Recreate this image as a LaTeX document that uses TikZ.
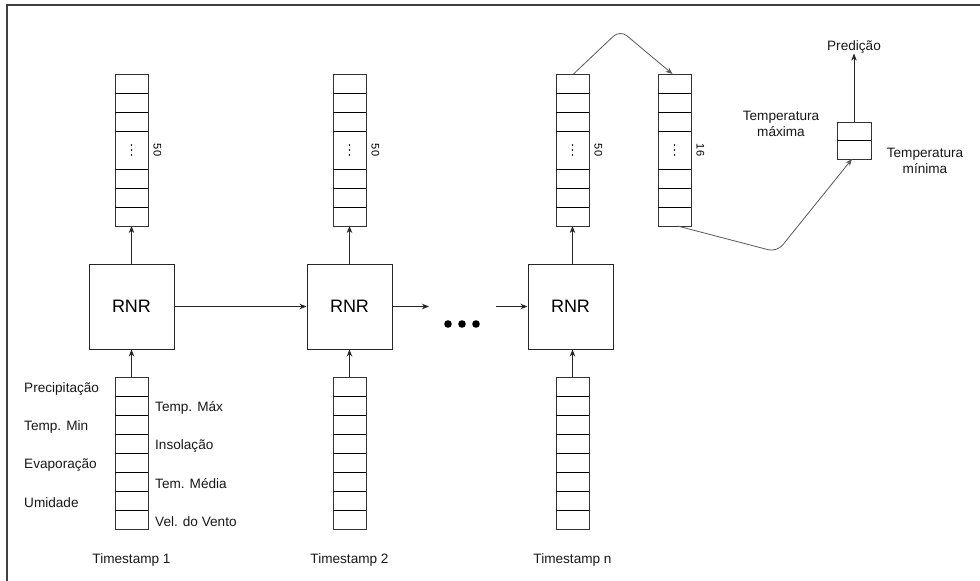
\documentclass[tikz,border=0pt]{standalone}
\usepackage{fontspec}
\setmainfont{Liberation Sans}
\usetikzlibrary{arrows.meta,calc}

\tikzset{
  frameline/.style={draw=black!75, line width=1.3pt},
  stackbox/.style={draw=black!80, line width=0.9pt, minimum width=33pt, inner sep=0pt, outer sep=0pt},
  cellline/.style={draw=black, line width=0.8pt},
  rnrbox/.style={draw=black!85, line width=1pt, minimum width=85pt, minimum height=85pt,
    inner sep=0pt, font=\fontsize{18}{20}\selectfont},
  lbl/.style={font=\fontsize{13.6}{16}\selectfont, inner sep=0pt, text=black!90},
  sizelbl/.style={font=\fontsize{11}{12}\selectfont, inner sep=0pt, rotate=-90},
  arr/.style={-{Stealth[length=7pt,width=5.5pt]}, line width=0.8pt, draw=black!85},
  curvearr/.style={arr, draw=black!65, rounded corners=9pt},
}

% dense layer: 3 cells, ellipsis cell, 3 cells
\newcommand{\hiddenstack}[3]{%
  \node[stackbox, minimum height=152pt] (#1) at (#2,150) {};
  \foreach \dy in {19,38,57,95,114,133}
    \draw[cellline] ($(#1.north west)+(0,\dy)$) -- ($(#1.north east)+(0,\dy)$);
  \foreach \dy in {-5,0,5}
    \fill ($(#1.center)+(0,\dy)$) circle (0.9pt);
  \node[sizelbl] (#1-n) at ($(#1.center)+(26,0)$) {#3};
}
% input vector: 8 cells
\newcommand{\inputstack}[2]{%
  \node[stackbox, minimum height=152pt] (#1) at (#2,453) {};
  \foreach \dy in {19,38,57,76,95,114,133}
    \draw[cellline] ($(#1.north west)+(0,\dy)$) -- ($(#1.north east)+(0,\dy)$);
}

\begin{document}
\begin{tikzpicture}[x=1pt,y=-1pt]
  \useasboundingbox (0,0) rectangle (980,581);
  \fill[white] (0,0) rectangle (980,581);

  % outer frame (top and left edges)
  \draw[frameline] (980,5) -- (7,5) -- (7,581);

  % recurrent cells
  \node[rnrbox] (r1) at (131.5,306.5) {RNR};
  \node[rnrbox] (r2) at (349.5,306.5) {RNR};
  \node[rnrbox] (r3) at (570.5,306.5) {RNR};

  % hidden state vectors
  \hiddenstack{h1}{131.5}{50}
  \hiddenstack{h2}{349.5}{50}
  \hiddenstack{h3}{572.5}{50}
  \hiddenstack{h4}{674.5}{16}

  % input vectors
  \inputstack{x1}{131.5}
  \inputstack{x2}{349.5}
  \inputstack{x3}{572.5}

  % output cell
  \node[stackbox, minimum width=34pt, minimum height=37pt] (o) at (854,140.5) {};
  \draw[cellline] (o.west) -- (o.east);

  % vertical flows
  \foreach \i in {1,2,3} {
    \draw[arr] (x\i.north) -- (x\i.north |- r\i.south);
    \draw[arr] (h\i.south |- r\i.north) -- (h\i.south);
  }

  % recurrence along time
  \coordinate (gapL) at (429,306.5);
  \coordinate (gapR) at (496,306.5);
  \draw[arr] (r1.east) -- (r2.west);
  \draw[arr] (r2.east) -- (gapL);
  \draw[arr] (gapR) -- (r3.west);
  \foreach \x in {448,462,476}
    \fill (\x,324) circle (3.8pt);

  % dense layers towards the prediction
  \coordinate (peak) at (620,30);
  \coordinate (bend) at (777,252);
  \draw[curvearr] ([xshift=1pt]h3.north) -- (peak) -- ([xshift=-2pt]h4.north);
  \draw[curvearr] ([xshift=3pt]h4.south) -- (bend) -- ([xshift=-2pt]o.south);

  \node[lbl] (pred) at (854,47) {Predição};
  \draw[arr] (o.north) -- (pred.south);

  \node[lbl, align=center] (tmax) at (781,124) {Temperatura\\máxima};
  \node[lbl, align=center] (tmin) at (925,161) {Temperatura\\mínima};

  % input feature names
  \node[lbl, anchor=west] (f1) at (24,389) {Precipitação};
  \node[lbl, anchor=west] (f2) at (24,427) {Temp. Min};
  \node[lbl, anchor=west] (f3) at (24,465) {Evaporação};
  \node[lbl, anchor=west] (f4) at (24,503) {Umidade};
  \node[lbl, anchor=west] (f5) at (155,408) {Temp. Máx};
  \node[lbl, anchor=west] (f6) at (155,446) {Insolação};
  \node[lbl, anchor=west] (f7) at (155,484) {Tem. Média};
  \node[lbl, anchor=west] (f8) at (155,522) {Vel. do Vento};

  % time steps
  \node[lbl] (t1) at (131.5,560) {Timestamp 1};
  \node[lbl] (t2) at (349.5,560) {Timestamp 2};
  \node[lbl] (t3) at (572.5,560) {Timestamp n};
\end{tikzpicture}
\end{document}
